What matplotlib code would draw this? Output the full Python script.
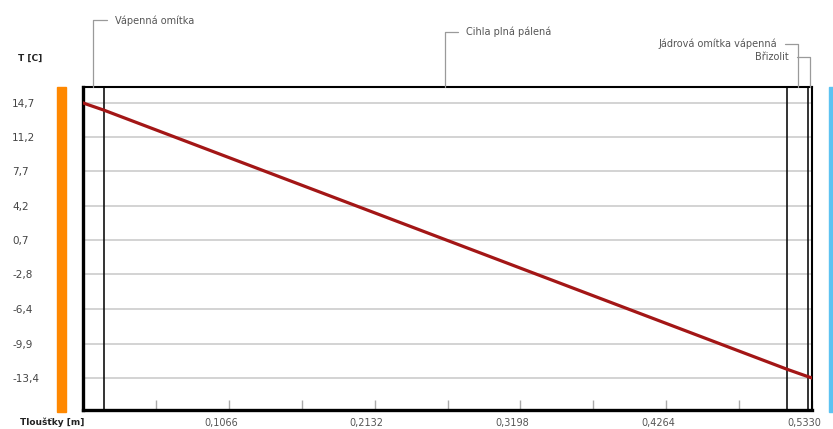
import matplotlib
matplotlib.use("Agg")
import matplotlib.pyplot as plt
from matplotlib.patches import Rectangle
from matplotlib.transforms import ScaledTranslation

# skladba stěny (tloušťky v m)
vrstvy = ["Vápenná omítka", "Cihla plná pálená", "Jádrová omítka vápenná", "Břizolit"]
tloustky = [0.015, 0.500, 0.015, 0.003]

# průběh teploty na rozhraních vrstev
x_teplota = [0.0, 0.015, 0.515, 0.530, 0.533]
teplota = [14.7, 13.98, -12.52, -13.26, -13.4]

y_ticky = [14.7, 11.2, 7.7, 4.2, 0.7, -2.8, -6.4, -9.9, -13.4]
x_ticky = [0.0533, 0.1066, 0.1599, 0.2132, 0.2665, 0.3198, 0.3731, 0.4264, 0.4797, 0.5330]

celkem = sum(tloustky)

fig = plt.figure(figsize=(8.33, 4.29), dpi=100)
ax = fig.add_axes([83 / 833, 19 / 429, 729 / 833, 323 / 429])

ax.set_xlim(0, celkem)
ax.set_ylim(-16.67, 16.33)

# mřížka
for t in y_ticky:
    ax.axhline(t, color="#cccccc", lw=1.2, zorder=1)

# hranice vrstev
hranice = [sum(tloustky[:i + 1]) for i in range(len(tloustky) - 1)]
for h in hranice:
    ax.axvline(h, color="#111111", lw=1.2, zorder=2)

ax.plot(x_teplota, teplota, color="#a31616", lw=2.3, zorder=3)

# popisky vrstev
odsazeni = [(15.8, 48), (14.8, 39.6), (-15, 31), (-15, 21.6)]
zacatek = 0.0
for nazev, d, (dx, dy) in zip(vrstvy, tloustky, odsazeni):
    stred = zacatek + d / 2
    zacatek += d
    vlevo = dx > 0
    ax.annotate(nazev, xy=(stred, 1), xycoords=("data", "axes fraction"),
                xytext=(dx, dy), textcoords="offset points",
                ha="left" if vlevo else "right", va="center",
                fontsize=7, color="#555555",
                arrowprops=dict(arrowstyle="-", color="#9a9a9a", lw=0.9,
                                connectionstyle="angle,angleA=0,angleB=90,rad=0",
                                relpos=(0, 0.5) if vlevo else (1, 0.5),
                                shrinkA=4, shrinkB=0))

for s in ["left", "bottom"]:
    ax.spines[s].set_linewidth(2.4)
for s in ["top", "right"]:
    ax.spines[s].set_linewidth(1.5)

ax.set_yticks(y_ticky)
ax.set_yticklabels([f"{v:.1f}".replace(".", ",") for v in y_ticky])
ax.tick_params(axis="y", length=0, pad=51, labelsize=7.5, labelcolor="#444444")
for lab in ax.get_yticklabels():
    lab.set_horizontalalignment("left")

# značky po 0,0533 m, popisky jen u každé druhé
ax.set_xticks(x_ticky)
ax.set_xticklabels(["" if i % 2 == 0 else f"{v:.4f}".replace(".", ",")
                    for i, v in enumerate(x_ticky)])
ax.tick_params(axis="x", direction="in", length=7, width=1, color="#aaaaaa",
               pad=6, labelsize=7, labelcolor="#555555")
posun_x = ScaledTranslation(-8 / 100, 0, fig.dpi_scale_trans)
for lab in ax.get_xticklabels():
    lab.set_transform(lab.get_transform() + posun_x)

fig.text(18 / 833, 1 - 58 / 429, "T [C]", fontsize=6.5, fontweight="bold",
         color="#222222", va="center")
fig.text(20 / 833, 1 - 422 / 429, "Tloušťky [m]", fontsize=6.5, fontweight="bold",
         color="#222222", va="center")

# barevné pruhy vnitřní / vnější strany
fig.patches.append(Rectangle((57 / 833, 17 / 429), 9 / 833, 325 / 429,
                             transform=fig.transFigure, color="#ff8800"))
fig.patches.append(Rectangle((829 / 833, 17 / 429), 6 / 833, 325 / 429,
                             transform=fig.transFigure, color="#5cc3f2"))

fig.savefig("out.png", dpi=100)
